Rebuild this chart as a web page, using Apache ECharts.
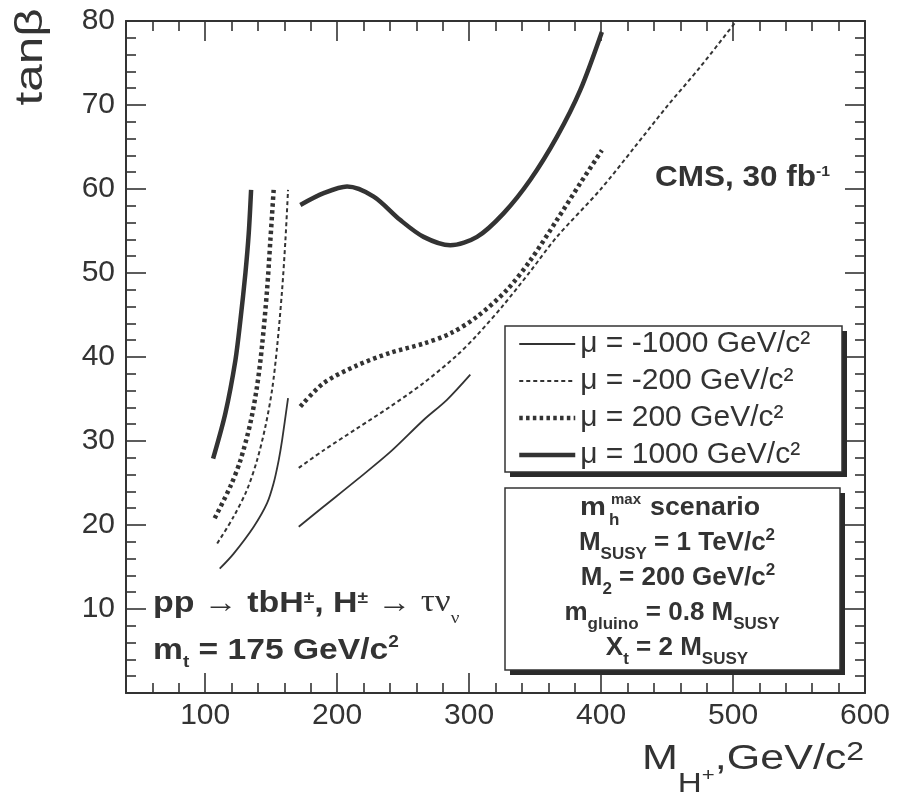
<!DOCTYPE html>
<html>
<head>
<meta charset="utf-8">
<script src="https://cdn.jsdelivr.net/npm/echarts@6/dist/echarts.min.js"></script>
<style>
  html, body { margin: 0; padding: 0; background: #fff; }
  #chart { width: 902px; height: 800px; }
</style>
</head>
<body>
<div id="chart"></div>
<script>
// ---- Axis ticks -------------------------------------------------------
const xMajorTicks = [100, 200, 300, 400, 500, 600];
const xMinorTicks = [60, 80, 120, 140, 160, 180, 220, 240, 260, 280, 320, 340, 360, 380,
                     420, 440, 460, 480, 520, 540, 560, 580];
const yMajorTicks = [10, 20, 30, 40, 50, 60, 70, 80];
const yMinorTicks = [2, 4, 6, 8, 12, 14, 16, 18, 22, 24, 26, 28, 32, 34, 36, 38,
                     42, 44, 46, 48, 52, 54, 56, 58, 62, 64, 66, 68, 72, 74, 76, 78];

// ---- Discovery contours: [M_H+ (GeV/c^2), tan(beta)] -----------------
// mu = -1000 GeV/c^2
const muM1000Low  = [[111.0, 14.8], [121.6, 16.6], [136.8, 19.8], [146.9, 22.6], [151.9, 25.0],
                     [155.7, 27.7], [158.3, 30.1], [162.8, 35.1]];
const muM1000High = [[170.9, 19.8], [189.8, 22.2], [215.1, 25.4], [240.3, 28.7], [265.5, 32.5],
                     [283.2, 34.9], [300.9, 37.9]];
// mu = -200 GeV/c^2
const muM200Low   = [[109.1, 17.8], [121.6, 21.0], [131.7, 24.2], [139.3, 27.7], [145.6, 31.7],
                     [150.7, 36.1], [154.5, 41.2], [158.3, 48.0], [160.8, 53.9], [162.8, 59.9]];
const muM200High  = [[170.9, 26.8], [189.8, 28.9], [215.1, 31.5], [240.3, 34.1], [265.5, 36.9],
                     [290.8, 40.2], [306.0, 42.6], [326.1, 46.2], [346.4, 50.2], [366.5, 54.3],
                     [399.3, 59.9], [424.5, 64.8], [449.8, 69.8], [475.0, 74.5], [501.5, 79.8]];
// mu = 200 GeV/c^2
const muP200Low   = [[107.2, 20.8], [119.1, 24.6], [126.7, 27.7], [134.2, 32.1], [139.3, 36.5],
                     [143.0, 41.2], [146.9, 48.0], [149.4, 53.9], [151.9, 59.9]];
const muP200High  = [[172.1, 34.1], [189.8, 36.9], [215.1, 39.0], [240.3, 40.5], [265.5, 41.6],
                     [285.7, 42.8], [306.0, 44.8], [328.7, 48.0], [346.4, 51.5], [366.5, 56.3],
                     [384.3, 60.7], [400.6, 64.6]];
// mu = 1000 GeV/c^2
const muP1000Low  = [[106.0, 27.9], [115.3, 33.3], [122.9, 39.6], [126.7, 44.4], [130.5, 50.0],
                     [133.0, 54.7], [134.8, 59.9]];
const muP1000High = [[172.1, 58.1], [189.8, 59.5], [207.5, 60.3], [227.7, 59.1], [247.9, 56.3],
                     [265.5, 54.3], [285.7, 53.3], [306.0, 54.3], [326.1, 57.1], [346.4, 61.1],
                     [366.5, 66.2], [384.3, 71.8], [400.6, 78.7]];

const seriesNames = ['μ = -1000 GeV/c²', 'μ = -200 GeV/c²', 'μ = 200 GeV/c²', 'μ = 1000 GeV/c²'];

// ---- Styling -----------------------------------------------------------
const INK = '#333';
const SANS = '"Liberation Sans", Arial, Helvetica, sans-serif';
const SERIF = '"Liberation Serif", "DejaVu Serif", serif';

const lineStyles = [
  { color: INK, width: 1.8, type: 'solid' },
  { color: INK, width: 2, type: [4, 3] },
  { color: INK, width: 4.5, type: [3.5, 3.3], cap: 'butt' },
  { color: INK, width: 4.5, type: 'solid' }
];
const branches = [
  [muM1000Low, muM1000High],
  [muM200Low, muM200High],
  [muP200Low, muP200High],
  [muP1000Low, muP1000High]
];

const series = [];
branches.forEach((pair, i) => {
  pair.forEach(data => {
    series.push({
      type: 'line',
      name: seriesNames[i],
      data: data,
      symbol: 'none',
      smooth: 0.3,
      color: INK,
      lineStyle: lineStyles[i],
      silent: true,
      z: 3
    });
  });
});

// ---- Axes: frame with inward major / minor ticks on all four sides ----
const X_MIN = 40, X_MAX = 600, Y_MIN = 0, Y_MAX = 80;

function xAxisDef(position, ticks, len, withLine, withLabels) {
  return {
    type: 'value', position: position, min: X_MIN, max: X_MAX,
    axisLine: { show: withLine, onZero: false, lineStyle: { color: INK, width: 2 } },
    axisTick: { show: true, inside: true, length: len, customValues: ticks,
                lineStyle: { color: INK, width: 1.6 } },
    axisLabel: withLabels
      ? { show: true, customValues: ticks, fontSize: 30, fontFamily: SANS, color: INK, margin: 8 }
      : { show: false },
    splitLine: { show: false }
  };
}
function yAxisDef(position, ticks, len, withLine, withLabels) {
  return {
    type: 'value', position: position, min: Y_MIN, max: Y_MAX,
    axisLine: { show: withLine, onZero: false, lineStyle: { color: INK, width: 2 } },
    axisTick: { show: true, inside: true, length: len, customValues: ticks,
                lineStyle: { color: INK, width: 1.6 } },
    axisLabel: withLabels
      ? { show: true, customValues: ticks, fontSize: 30, fontFamily: SANS, color: INK, margin: 11 }
      : { show: false },
    splitLine: { show: false }
  };
}

// ---- Rich-text helpers for sub/superscripted annotations ---------------
const P = 50; // distance from the block top to the main baseline
function tok(fs, dy, weight, family) {
  return {
    fontSize: fs, fontWeight: weight || 'normal', fontFamily: family || SANS,
    fill: INK, verticalAlign: 'top', lineHeight: 80,
    padding: [Math.max(0, P + dy - 0.85 * fs), 0, 0, 0]
  };
}
function richText(x, baseline, text, rich, opts) {
  opts = opts || {};
  return {
    type: 'text', x: x, y: baseline - P, z: 3,
    scaleX: opts.scaleX || 1,
    style: { text: text, rich: rich, align: opts.align || 'left', verticalAlign: 'top',
             fill: INK, fontFamily: SANS, fontSize: 26 }
  };
}
function plainText(x, baseline, text, fs, weight, scaleX) {
  return richText(x, baseline, '{b|' + text + '}', { b: tok(fs, 0, weight) }, { scaleX: scaleX });
}

const boldRich26 = { b: tok(26, 0, 'bold'), s: tok(17, 8, 'bold'), p: tok(17, -11, 'bold') };

const graphics = [
  // legend frame with drop shadow
  { type: 'rect', z: 1, shape: { x: 510, y: 331, width: 337, height: 146 }, style: { fill: '#2b2b2b' } },
  { type: 'rect', z: 2, shape: { x: 505, y: 326, width: 337, height: 146 },
    style: { fill: '#fff', stroke: INK, lineWidth: 1.5 } },
  // scenario frame with drop shadow
  { type: 'rect', z: 1, shape: { x: 510, y: 493, width: 335, height: 182 }, style: { fill: '#2b2b2b' } },
  { type: 'rect', z: 2, shape: { x: 505, y: 488, width: 335, height: 182 }, style: { fill: '#fff' } },
  { type: 'rect', z: 4, shape: { x: 505, y: 488, width: 335, height: 182 },
    style: { fill: 'none', stroke: INK, lineWidth: 1.5 } },

  // scenario parameters
  plainText(580, 517, 'm', 26, 'bold', 1.12),
  plainText(609, 526, 'h', 17, 'bold'),
  plainText(611, 505, 'max', 15, 'bold'),
  plainText(650, 517, 'scenario', 26, 'bold', 1.03),
  richText(677, 552, '{b|M}{s|SUSY}{b| = 1 TeV/c}{p|2}', boldRich26, { align: 'center' }),
  richText(678, 587, '{b|M}{s|2}{b| = 200 GeV/c}{p|2}', boldRich26, { align: 'center' }),
  richText(672, 622, '{b|m}{s|gluino}{b| = 0.8 M}{s|SUSY}', boldRich26, { align: 'center' }),
  richText(677, 657, '{b|X}{s|t}{b| = 2 M}{s|SUSY}', boldRich26, { align: 'center' }),

  // process and top mass
  richText(153, 614, '{b|pp → tbH}{p|±}{b|, H}{p|±}{b| → }{g|τν}{gs|ν}', {
    b: tok(30, 0, 'bold'), p: tok(17, -10, 'bold'),
    g: tok(31, 0, 'normal', SERIF), gs: tok(17, 10, 'normal', SERIF)
  }, { scaleX: 1.13 }),
  richText(153, 661, '{b|m}{s|t}{b| = 175 GeV/c}{p|2}', {
    b: tok(30, 0, 'bold'), s: tok(17, 7, 'bold'), p: tok(17, -13, 'bold')
  }, { scaleX: 1.12 }),

  // luminosity
  richText(655, 188, '{b|CMS, 30 fb}{p|-1}', {
    b: tok(30, 0, 'bold'), p: tok(15, -11, 'bold')
  }, { scaleX: 1.05 }),

  // axis titles
  richText(642, 772, '{m|M}{h|H}{q|+}{m|,GeV/c}{t|2}', {
    m: tok(35, 0), h: tok(27, 22), q: tok(18, 10), t: tok(26, -10)
  }, { scaleX: 1.23 }),
  { type: 'text', x: 32, y: 57, rotation: Math.PI / 2, scaleX: 1.3, z: 3,
    style: { text: 'tanβ', fontSize: 38, fontFamily: SANS, fill: INK,
             align: 'center', verticalAlign: 'middle' } }
];

// legend samples carry each curve's own width and dash pattern
const legendData = seriesNames.map((name, i) => ({
  name: name,
  lineStyle: { width: lineStyles[i].width, type: lineStyles[i].type, color: INK, cap: 'butt' }
}));

const chart = echarts.init(document.getElementById('chart'), null, { renderer: 'canvas' });
chart.setOption({
  animation: false,
  backgroundColor: '#fff',
  grid: { left: 126, right: 37, top: 21, bottom: 107, containLabel: false },
  xAxis: [
    xAxisDef('bottom', xMajorTicks, 20, true, true),
    xAxisDef('bottom', xMinorTicks, 10, false, false),
    xAxisDef('top', xMajorTicks, 20, true, false),
    xAxisDef('top', xMinorTicks, 10, false, false)
  ],
  yAxis: [
    yAxisDef('left', yMajorTicks, 20, true, true),
    yAxisDef('left', yMinorTicks, 10, false, false),
    yAxisDef('right', yMajorTicks, 20, true, false),
    yAxisDef('right', yMinorTicks, 10, false, false)
  ],
  legend: {
    orient: 'vertical', left: 517, top: 328, padding: 0,
    itemWidth: 56, itemHeight: 14, itemGap: 5, z: 10,
    selectedMode: false,
    data: legendData,
    // line samples only, no marker in the middle
    itemStyle: { opacity: 0, borderWidth: 0 },
    textStyle: { fontSize: 30, lineHeight: 32, color: INK, fontFamily: SANS }
  },
  graphic: { elements: graphics },
  series: series
});
</script>
</body>
</html>
